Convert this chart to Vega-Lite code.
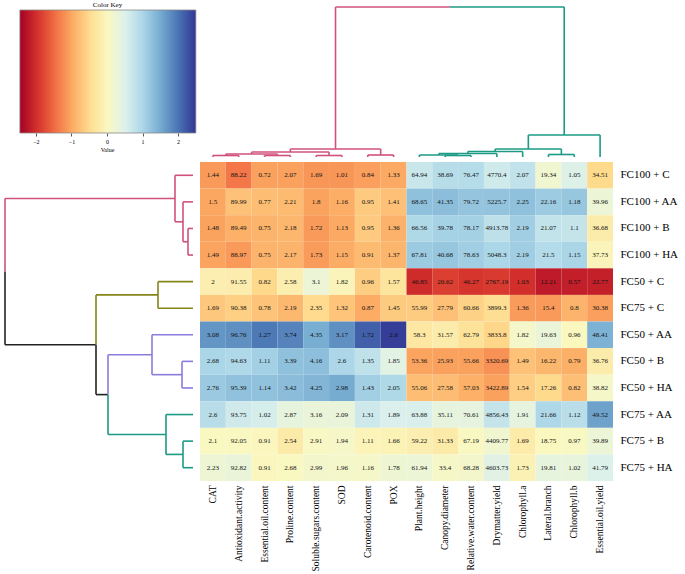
{
  "$schema": "https://vega.github.io/schema/vega-lite/v6.json",
  "padding": 0,
  "columns": 2,
  "align": "each",
  "bounds": "flush",
  "spacing": {"row": 5, "column": 7},
  "config": {
    "view": {"stroke": null},
    "font": "Liberation Serif",
    "axis": {"labelFont": "Liberation Serif", "titleFont": "Liberation Serif", "labelColor": "#000", "titleColor": "#000", "grid": false},
    "title": {"font": "Liberation Serif", "fontWeight": "normal", "color": "#000"}
  },
  "datasets": {
    "key": [{"lo": -2.45, "hi": 2.5}],
    "cells": [
      {"v":"CAT","t":"FC100 + C","val":1.44,"z":-1.11},{"v":"CAT","t":"FC100 + AA","val":1.5,"z":-1.01},{"v":"CAT","t":"FC100 + B","val":1.48,"z":-1.04},{"v":"CAT","t":"FC100 + HA","val":1.49,"z":-1.03},{"v":"CAT","t":"FC50 + C","val":2,"z":-0.15},{"v":"CAT","t":"FC75 + C","val":1.69,"z":-0.68},{"v":"CAT","t":"FC50 + AA","val":3.08,"z":1.70},{"v":"CAT","t":"FC50 + B","val":2.68,"z":1.02},{"v":"CAT","t":"FC50 + HA","val":2.76,"z":1.16},{"v":"CAT","t":"FC75 + AA","val":2.6,"z":0.88},{"v":"CAT","t":"FC75 + B","val":2.1,"z":0.02},{"v":"CAT","t":"FC75 + HA","val":2.23,"z":0.24},
      {"v":"Antioxidant.activity","t":"FC100 + C","val":88.22,"z":-1.39},{"v":"Antioxidant.activity","t":"FC100 + AA","val":89.99,"z":-0.74},{"v":"Antioxidant.activity","t":"FC100 + B","val":89.49,"z":-0.92},{"v":"Antioxidant.activity","t":"FC100 + HA","val":88.97,"z":-1.11},{"v":"Antioxidant.activity","t":"FC50 + C","val":91.55,"z":-0.17},{"v":"Antioxidant.activity","t":"FC75 + C","val":90.38,"z":-0.60},{"v":"Antioxidant.activity","t":"FC50 + AA","val":96.76,"z":1.75},{"v":"Antioxidant.activity","t":"FC50 + B","val":94.63,"z":0.97},{"v":"Antioxidant.activity","t":"FC50 + HA","val":95.39,"z":1.25},{"v":"Antioxidant.activity","t":"FC75 + AA","val":93.75,"z":0.64},{"v":"Antioxidant.activity","t":"FC75 + B","val":92.05,"z":0.02},{"v":"Antioxidant.activity","t":"FC75 + HA","val":92.82,"z":0.30},
      {"v":"Essential.oil.content","t":"FC100 + C","val":0.72,"z":-1.05},{"v":"Essential.oil.content","t":"FC100 + AA","val":0.77,"z":-0.78},{"v":"Essential.oil.content","t":"FC100 + B","val":0.75,"z":-0.89},{"v":"Essential.oil.content","t":"FC100 + HA","val":0.75,"z":-0.89},{"v":"Essential.oil.content","t":"FC50 + C","val":0.82,"z":-0.51},{"v":"Essential.oil.content","t":"FC75 + C","val":0.78,"z":-0.73},{"v":"Essential.oil.content","t":"FC50 + AA","val":1.27,"z":1.96},{"v":"Essential.oil.content","t":"FC50 + B","val":1.11,"z":1.08},{"v":"Essential.oil.content","t":"FC50 + HA","val":1.14,"z":1.25},{"v":"Essential.oil.content","t":"FC75 + AA","val":1.02,"z":0.59},{"v":"Essential.oil.content","t":"FC75 + B","val":0.91,"z":-0.01},{"v":"Essential.oil.content","t":"FC75 + HA","val":0.91,"z":-0.01},
      {"v":"Proline.content","t":"FC100 + C","val":2.07,"z":-1.05},{"v":"Proline.content","t":"FC100 + AA","val":2.21,"z":-0.81},{"v":"Proline.content","t":"FC100 + B","val":2.18,"z":-0.86},{"v":"Proline.content","t":"FC100 + HA","val":2.17,"z":-0.88},{"v":"Proline.content","t":"FC50 + C","val":2.58,"z":-0.16},{"v":"Proline.content","t":"FC75 + C","val":2.19,"z":-0.84},{"v":"Proline.content","t":"FC50 + AA","val":3.74,"z":1.87},{"v":"Proline.content","t":"FC50 + B","val":3.39,"z":1.26},{"v":"Proline.content","t":"FC50 + HA","val":3.42,"z":1.31},{"v":"Proline.content","t":"FC75 + AA","val":2.87,"z":0.35},{"v":"Proline.content","t":"FC75 + B","val":2.54,"z":-0.23},{"v":"Proline.content","t":"FC75 + HA","val":2.68,"z":0.02},
      {"v":"Soluble.sugars.content","t":"FC100 + C","val":1.69,"z":-1.14},{"v":"Soluble.sugars.content","t":"FC100 + AA","val":1.8,"z":-1.04},{"v":"Soluble.sugars.content","t":"FC100 + B","val":1.72,"z":-1.11},{"v":"Soluble.sugars.content","t":"FC100 + HA","val":1.73,"z":-1.10},{"v":"Soluble.sugars.content","t":"FC50 + C","val":3.1,"z":0.25},{"v":"Soluble.sugars.content","t":"FC75 + C","val":2.35,"z":-0.49},{"v":"Soluble.sugars.content","t":"FC50 + AA","val":4.35,"z":1.48},{"v":"Soluble.sugars.content","t":"FC50 + B","val":4.16,"z":1.29},{"v":"Soluble.sugars.content","t":"FC50 + HA","val":4.25,"z":1.38},{"v":"Soluble.sugars.content","t":"FC75 + AA","val":3.16,"z":0.30},{"v":"Soluble.sugars.content","t":"FC75 + B","val":2.91,"z":0.06},{"v":"Soluble.sugars.content","t":"FC75 + HA","val":2.99,"z":0.14},
      {"v":"SOD","t":"FC100 + C","val":1.01,"z":-1.14},{"v":"SOD","t":"FC100 + AA","val":1.16,"z":-0.94},{"v":"SOD","t":"FC100 + B","val":1.13,"z":-0.98},{"v":"SOD","t":"FC100 + HA","val":1.15,"z":-0.95},{"v":"SOD","t":"FC50 + C","val":1.82,"z":-0.05},{"v":"SOD","t":"FC75 + C","val":1.32,"z":-0.72},{"v":"SOD","t":"FC50 + AA","val":3.17,"z":1.75},{"v":"SOD","t":"FC50 + B","val":2.6,"z":0.99},{"v":"SOD","t":"FC50 + HA","val":2.98,"z":1.50},{"v":"SOD","t":"FC75 + AA","val":2.09,"z":0.31},{"v":"SOD","t":"FC75 + B","val":1.94,"z":0.11},{"v":"SOD","t":"FC75 + HA","val":1.96,"z":0.13},
      {"v":"Carotenoid.content","t":"FC100 + C","val":0.84,"z":-1.07},{"v":"Carotenoid.content","t":"FC100 + AA","val":0.95,"z":-0.66},{"v":"Carotenoid.content","t":"FC100 + B","val":0.95,"z":-0.66},{"v":"Carotenoid.content","t":"FC100 + HA","val":0.91,"z":-0.81},{"v":"Carotenoid.content","t":"FC50 + C","val":0.96,"z":-0.63},{"v":"Carotenoid.content","t":"FC75 + C","val":0.87,"z":-0.96},{"v":"Carotenoid.content","t":"FC50 + AA","val":1.72,"z":2.17},{"v":"Carotenoid.content","t":"FC50 + B","val":1.35,"z":0.81},{"v":"Carotenoid.content","t":"FC50 + HA","val":1.43,"z":1.10},{"v":"Carotenoid.content","t":"FC75 + AA","val":1.31,"z":0.66},{"v":"Carotenoid.content","t":"FC75 + B","val":1.11,"z":-0.07},{"v":"Carotenoid.content","t":"FC75 + HA","val":1.16,"z":0.11},
      {"v":"POX","t":"FC100 + C","val":1.33,"z":-0.98},{"v":"POX","t":"FC100 + AA","val":1.41,"z":-0.76},{"v":"POX","t":"FC100 + B","val":1.36,"z":-0.90},{"v":"POX","t":"FC100 + HA","val":1.37,"z":-0.87},{"v":"POX","t":"FC50 + C","val":1.57,"z":-0.33},{"v":"POX","t":"FC75 + C","val":1.45,"z":-0.65},{"v":"POX","t":"FC50 + AA","val":2.6,"z":2.44},{"v":"POX","t":"FC50 + B","val":1.85,"z":0.42},{"v":"POX","t":"FC50 + HA","val":2.05,"z":0.96},{"v":"POX","t":"FC75 + AA","val":1.89,"z":0.53},{"v":"POX","t":"FC75 + B","val":1.66,"z":-0.09},{"v":"POX","t":"FC75 + HA","val":1.78,"z":0.23},
      {"v":"Plant.height","t":"FC100 + C","val":64.94,"z":0.71},{"v":"Plant.height","t":"FC100 + AA","val":68.65,"z":1.27},{"v":"Plant.height","t":"FC100 + B","val":66.56,"z":0.96},{"v":"Plant.height","t":"FC100 + HA","val":67.81,"z":1.15},{"v":"Plant.height","t":"FC50 + C","val":46.85,"z":-2.02},{"v":"Plant.height","t":"FC75 + C","val":55.99,"z":-0.64},{"v":"Plant.height","t":"FC50 + AA","val":58.3,"z":-0.29},{"v":"Plant.height","t":"FC50 + B","val":53.36,"z":-1.03},{"v":"Plant.height","t":"FC50 + HA","val":55.06,"z":-0.78},{"v":"Plant.height","t":"FC75 + AA","val":63.88,"z":0.55},{"v":"Plant.height","t":"FC75 + B","val":59.22,"z":-0.15},{"v":"Plant.height","t":"FC75 + HA","val":61.94,"z":0.26},
      {"v":"Canopy.diameter","t":"FC100 + C","val":38.69,"z":0.89},{"v":"Canopy.diameter","t":"FC100 + AA","val":41.35,"z":1.30},{"v":"Canopy.diameter","t":"FC100 + B","val":39.78,"z":1.06},{"v":"Canopy.diameter","t":"FC100 + HA","val":40.68,"z":1.20},{"v":"Canopy.diameter","t":"FC50 + C","val":20.62,"z":-1.85},{"v":"Canopy.diameter","t":"FC75 + C","val":27.79,"z":-0.76},{"v":"Canopy.diameter","t":"FC50 + AA","val":31.57,"z":-0.19},{"v":"Canopy.diameter","t":"FC50 + B","val":25.93,"z":-1.05},{"v":"Canopy.diameter","t":"FC50 + HA","val":27.58,"z":-0.80},{"v":"Canopy.diameter","t":"FC75 + AA","val":35.11,"z":0.35},{"v":"Canopy.diameter","t":"FC75 + B","val":31.33,"z":-0.23},{"v":"Canopy.diameter","t":"FC75 + HA","val":33.4,"z":0.09},
      {"v":"Relative.water.content","t":"FC100 + C","val":76.47,"z":0.91},{"v":"Relative.water.content","t":"FC100 + AA","val":79.72,"z":1.22},{"v":"Relative.water.content","t":"FC100 + B","val":78.17,"z":1.07},{"v":"Relative.water.content","t":"FC100 + HA","val":78.63,"z":1.11},{"v":"Relative.water.content","t":"FC50 + C","val":46.27,"z":-1.93},{"v":"Relative.water.content","t":"FC75 + C","val":60.66,"z":-0.58},{"v":"Relative.water.content","t":"FC50 + AA","val":62.79,"z":-0.38},{"v":"Relative.water.content","t":"FC50 + B","val":55.66,"z":-1.05},{"v":"Relative.water.content","t":"FC50 + HA","val":57.03,"z":-0.92},{"v":"Relative.water.content","t":"FC75 + AA","val":70.61,"z":0.36},{"v":"Relative.water.content","t":"FC75 + B","val":67.19,"z":0.04},{"v":"Relative.water.content","t":"FC75 + HA","val":68.28,"z":0.14},
      {"v":"Drymatter.yield","t":"FC100 + C","val":4770.4,"z":0.65},{"v":"Drymatter.yield","t":"FC100 + AA","val":5225.7,"z":1.23},{"v":"Drymatter.yield","t":"FC100 + B","val":4913.78,"z":0.83},{"v":"Drymatter.yield","t":"FC100 + HA","val":5048.3,"z":1.00},{"v":"Drymatter.yield","t":"FC50 + C","val":2767.19,"z":-1.89},{"v":"Drymatter.yield","t":"FC75 + C","val":3899.3,"z":-0.45},{"v":"Drymatter.yield","t":"FC50 + AA","val":3833.8,"z":-0.53},{"v":"Drymatter.yield","t":"FC50 + B","val":3320.69,"z":-1.18},{"v":"Drymatter.yield","t":"FC50 + HA","val":3422.89,"z":-1.05},{"v":"Drymatter.yield","t":"FC75 + AA","val":4856.43,"z":0.76},{"v":"Drymatter.yield","t":"FC75 + B","val":4409.77,"z":0.19},{"v":"Drymatter.yield","t":"FC75 + HA","val":4603.73,"z":0.44},
      {"v":"Chlorophyll.a","t":"FC100 + C","val":2.07,"z":0.79},{"v":"Chlorophyll.a","t":"FC100 + AA","val":2.25,"z":1.27},{"v":"Chlorophyll.a","t":"FC100 + B","val":2.19,"z":1.11},{"v":"Chlorophyll.a","t":"FC100 + HA","val":2.19,"z":1.11},{"v":"Chlorophyll.a","t":"FC50 + C","val":1.03,"z":-1.98},{"v":"Chlorophyll.a","t":"FC75 + C","val":1.36,"z":-1.10},{"v":"Chlorophyll.a","t":"FC50 + AA","val":1.82,"z":0.13},{"v":"Chlorophyll.a","t":"FC50 + B","val":1.49,"z":-0.75},{"v":"Chlorophyll.a","t":"FC50 + HA","val":1.54,"z":-0.62},{"v":"Chlorophyll.a","t":"FC75 + AA","val":1.91,"z":0.37},{"v":"Chlorophyll.a","t":"FC75 + B","val":1.69,"z":-0.22},{"v":"Chlorophyll.a","t":"FC75 + HA","val":1.73,"z":-0.11},
      {"v":"Lateral.branch","t":"FC100 + C","val":19.34,"z":0.20},{"v":"Lateral.branch","t":"FC100 + AA","val":22.16,"z":1.14},{"v":"Lateral.branch","t":"FC100 + B","val":21.07,"z":0.78},{"v":"Lateral.branch","t":"FC100 + HA","val":21.5,"z":0.92},{"v":"Lateral.branch","t":"FC50 + C","val":12.21,"z":-2.19},{"v":"Lateral.branch","t":"FC75 + C","val":15.4,"z":-1.12},{"v":"Lateral.branch","t":"FC50 + AA","val":19.63,"z":0.29},{"v":"Lateral.branch","t":"FC50 + B","val":16.22,"z":-0.85},{"v":"Lateral.branch","t":"FC50 + HA","val":17.26,"z":-0.50},{"v":"Lateral.branch","t":"FC75 + AA","val":21.66,"z":0.98},{"v":"Lateral.branch","t":"FC75 + B","val":18.75,"z":0.00},{"v":"Lateral.branch","t":"FC75 + HA","val":19.81,"z":0.35},
      {"v":"Chlorophyll.b","t":"FC100 + C","val":1.05,"z":0.49},{"v":"Chlorophyll.b","t":"FC100 + AA","val":1.18,"z":1.20},{"v":"Chlorophyll.b","t":"FC100 + B","val":1.1,"z":0.76},{"v":"Chlorophyll.b","t":"FC100 + HA","val":1.15,"z":1.03},{"v":"Chlorophyll.b","t":"FC50 + C","val":0.57,"z":-2.14},{"v":"Chlorophyll.b","t":"FC75 + C","val":0.8,"z":-0.88},{"v":"Chlorophyll.b","t":"FC50 + AA","val":0.96,"z":0.00},{"v":"Chlorophyll.b","t":"FC50 + B","val":0.79,"z":-0.93},{"v":"Chlorophyll.b","t":"FC50 + HA","val":0.82,"z":-0.77},{"v":"Chlorophyll.b","t":"FC75 + AA","val":1.12,"z":0.87},{"v":"Chlorophyll.b","t":"FC75 + B","val":0.97,"z":0.05},{"v":"Chlorophyll.b","t":"FC75 + HA","val":1.02,"z":0.32},
      {"v":"Essential.oil.yield","t":"FC100 + C","val":34.51,"z":-0.50},{"v":"Essential.oil.yield","t":"FC100 + AA","val":39.96,"z":0.26},{"v":"Essential.oil.yield","t":"FC100 + B","val":36.68,"z":-0.20},{"v":"Essential.oil.yield","t":"FC100 + HA","val":37.73,"z":-0.05},{"v":"Essential.oil.yield","t":"FC50 + C","val":22.77,"z":-2.13},{"v":"Essential.oil.yield","t":"FC75 + C","val":30.38,"z":-1.07},{"v":"Essential.oil.yield","t":"FC50 + AA","val":48.41,"z":1.43},{"v":"Essential.oil.yield","t":"FC50 + B","val":36.76,"z":-0.19},{"v":"Essential.oil.yield","t":"FC50 + HA","val":38.82,"z":0.10},{"v":"Essential.oil.yield","t":"FC75 + AA","val":49.52,"z":1.59},{"v":"Essential.oil.yield","t":"FC75 + B","val":39.89,"z":0.25},{"v":"Essential.oil.yield","t":"FC75 + HA","val":41.79,"z":0.51}
    ],
    "topd": [
      {"p1":0.5,"p2":1.5,"h1":1.5,"h2":1.5,"g":"A"},{"p1":0.5,"p2":0.5,"h1":0,"h2":1.5,"g":"A"},{"p1":1.5,"p2":1.5,"h1":0,"h2":1.5,"g":"A"},
      {"p1":2.5,"p2":3.5,"h1":1.5,"h2":1.5,"g":"A"},{"p1":2.5,"p2":2.5,"h1":0,"h2":1.5,"g":"A"},{"p1":3.5,"p2":3.5,"h1":0,"h2":1.5,"g":"A"},
      {"p1":4.5,"p2":5.5,"h1":1.5,"h2":1.5,"g":"A"},{"p1":4.5,"p2":4.5,"h1":0,"h2":1.5,"g":"A"},{"p1":5.5,"p2":5.5,"h1":0,"h2":1.5,"g":"A"},
      {"p1":6.5,"p2":7.5,"h1":2,"h2":2,"g":"A"},{"p1":6.5,"p2":6.5,"h1":0,"h2":2,"g":"A"},{"p1":7.5,"p2":7.5,"h1":0,"h2":2,"g":"A"},
      {"p1":1,"p2":3,"h1":3,"h2":3,"g":"A"},{"p1":1,"p2":1,"h1":1.5,"h2":3,"g":"A"},{"p1":3,"p2":3,"h1":1.5,"h2":3,"g":"A"},
      {"p1":2,"p2":5,"h1":5,"h2":5,"g":"A"},{"p1":2,"p2":2,"h1":3,"h2":5,"g":"A"},{"p1":5,"p2":5,"h1":1.5,"h2":5,"g":"A"},
      {"p1":3.5,"p2":7,"h1":8,"h2":8,"g":"A"},{"p1":3.5,"p2":3.5,"h1":5,"h2":8,"g":"A"},{"p1":7,"p2":7,"h1":2,"h2":8,"g":"A"},
      {"p1":5.25,"p2":9.68,"h1":150,"h2":150,"g":"A"},{"p1":5.25,"p2":5.25,"h1":8,"h2":150,"g":"A"},
      {"p1":9.5,"p2":10.5,"h1":1.5,"h2":1.5,"g":"B"},{"p1":9.5,"p2":9.5,"h1":0,"h2":1.5,"g":"B"},{"p1":10.5,"p2":10.5,"h1":0,"h2":1.5,"g":"B"},
      {"p1":8.5,"p2":10,"h1":2,"h2":2,"g":"B"},{"p1":8.5,"p2":8.5,"h1":0,"h2":2,"g":"B"},{"p1":10,"p2":10,"h1":1.5,"h2":2,"g":"B"},
      {"p1":9.25,"p2":11.5,"h1":3.5,"h2":3.5,"g":"B"},{"p1":9.25,"p2":9.25,"h1":2,"h2":3.5,"g":"B"},{"p1":11.5,"p2":11.5,"h1":0,"h2":3.5,"g":"B"},
      {"p1":10.375,"p2":12.5,"h1":5.5,"h2":5.5,"g":"B"},{"p1":10.375,"p2":10.375,"h1":3.5,"h2":5.5,"g":"B"},{"p1":12.5,"p2":12.5,"h1":0,"h2":5.5,"g":"B"},
      {"p1":13.5,"p2":14.5,"h1":2.5,"h2":2.5,"g":"B"},{"p1":13.5,"p2":13.5,"h1":0,"h2":2.5,"g":"B"},{"p1":14.5,"p2":14.5,"h1":0,"h2":2.5,"g":"B"},
      {"p1":11.4375,"p2":14,"h1":8,"h2":8,"g":"B"},{"p1":11.4375,"p2":11.4375,"h1":5.5,"h2":8,"g":"B"},{"p1":14,"p2":14,"h1":2.5,"h2":8,"g":"B"},
      {"p1":12.72,"p2":15.5,"h1":22,"h2":22,"g":"B"},{"p1":12.72,"p2":12.72,"h1":8,"h2":22,"g":"B"},{"p1":15.5,"p2":15.5,"h1":0,"h2":22,"g":"B"},
      {"p1":9.68,"p2":14.11,"h1":150,"h2":150,"g":"B"},{"p1":14.11,"p2":14.11,"h1":22,"h2":150,"g":"B"}
    ],
    "leftd": [
      {"p1":2.5,"p2":3.5,"h1":5,"h2":5,"g":"A"},{"p1":2.5,"p2":2.5,"h1":0,"h2":5,"g":"A"},{"p1":3.5,"p2":3.5,"h1":0,"h2":5,"g":"A"},
      {"p1":1.5,"p2":3,"h1":10,"h2":10,"g":"A"},{"p1":1.5,"p2":1.5,"h1":0,"h2":10,"g":"A"},{"p1":3,"p2":3,"h1":5,"h2":10,"g":"A"},
      {"p1":0.5,"p2":2.25,"h1":18,"h2":18,"g":"A"},{"p1":0.5,"p2":0.5,"h1":0,"h2":18,"g":"A"},{"p1":2.25,"p2":2.25,"h1":10,"h2":18,"g":"A"},
      {"p1":1.375,"p2":4.125,"h1":188,"h2":188,"g":"A"},{"p1":1.375,"p2":1.375,"h1":18,"h2":188,"g":"A"},
      {"p1":4.125,"p2":6.875,"h1":188,"h2":188,"g":"K"},{"p1":6.875,"p2":6.875,"h1":97,"h2":188,"g":"K"},
      {"p1":6.875,"p2":8.75,"h1":97,"h2":97,"g":"K"},{"p1":8.75,"p2":8.75,"h1":85,"h2":97,"g":"K"},
      {"p1":4.5,"p2":5.5,"h1":35,"h2":35,"g":"O"},{"p1":4.5,"p2":4.5,"h1":0,"h2":35,"g":"O"},{"p1":5.5,"p2":5.5,"h1":0,"h2":35,"g":"O"},
      {"p1":5,"p2":6.875,"h1":97,"h2":97,"g":"O"},{"p1":5,"p2":5,"h1":35,"h2":97,"g":"O"},
      {"p1":7.5,"p2":8.5,"h1":11,"h2":11,"g":"P"},{"p1":7.5,"p2":7.5,"h1":0,"h2":11,"g":"P"},{"p1":8.5,"p2":8.5,"h1":0,"h2":11,"g":"P"},
      {"p1":6.5,"p2":8,"h1":41,"h2":41,"g":"P"},{"p1":6.5,"p2":6.5,"h1":0,"h2":41,"g":"P"},{"p1":8,"p2":8,"h1":11,"h2":41,"g":"P"},
      {"p1":7.25,"p2":8.75,"h1":85,"h2":85,"g":"P"},{"p1":7.25,"p2":7.25,"h1":41,"h2":85,"g":"P"},
      {"p1":10.5,"p2":11.5,"h1":10,"h2":10,"g":"B"},{"p1":10.5,"p2":10.5,"h1":0,"h2":10,"g":"B"},{"p1":11.5,"p2":11.5,"h1":0,"h2":10,"g":"B"},
      {"p1":9.5,"p2":11,"h1":27,"h2":27,"g":"B"},{"p1":9.5,"p2":9.5,"h1":0,"h2":27,"g":"B"},{"p1":11,"p2":11,"h1":10,"h2":27,"g":"B"},
      {"p1":8.75,"p2":10.25,"h1":85,"h2":85,"g":"B"},{"p1":10.25,"p2":10.25,"h1":27,"h2":85,"g":"B"}
    ]
  },
  "concat": [
    {
      "width": 193,
      "height": 123,
      "title": {"text": "Color Key", "fontSize": 7, "offset": 2, "dx": 11},
      "data": {"name": "key"},
      "mark": {
        "type": "rect",
        "stroke": "#888",
        "strokeWidth": 0.8,
        "fill": {
          "gradient": "linear",
          "x1": 0, "x2": 1, "y1": 0, "y2": 0,
          "stops": [
            {"offset": 0, "color": "#a50026"},
            {"offset": 0.1, "color": "#d4322c"},
            {"offset": 0.2, "color": "#f16e43"},
            {"offset": 0.3, "color": "#fcac64"},
            {"offset": 0.4, "color": "#fedd90"},
            {"offset": 0.5, "color": "#faf8c1"},
            {"offset": 0.6, "color": "#dcf1ec"},
            {"offset": 0.7, "color": "#abd6e8"},
            {"offset": 0.8, "color": "#75abd0"},
            {"offset": 0.9, "color": "#4a74b4"},
            {"offset": 1, "color": "#313695"}
          ]
        }
      },
      "encoding": {
        "x": {
          "field": "lo", "type": "quantitative",
          "scale": {"domain": [-3.01, 2.42], "nice": false, "zero": false},
          "axis": {"values": [-2, -1, 0, 1, 2], "domain": false, "tickSize": 3, "tickColor": "#555", "labelFontSize": 6, "labelPadding": 2, "title": "Value", "titleFontSize": 6, "titleFontWeight": "normal", "titlePadding": 2, "titleX": 107}
        },
        "x2": {"field": "hi"}
      }
    },
    {
      "width": 413,
      "height": 147,
      "data": {"name": "topd"},
      "mark": {"type": "rule", "strokeWidth": 1.6},
      "encoding": {
        "x": {"field": "p1", "type": "quantitative", "scale": {"domain": [0, 16], "nice": false, "zero": false}, "axis": null},
        "x2": {"field": "p2"},
        "y": {"field": "h1", "type": "quantitative", "scale": {"domain": [0, 147], "nice": false}, "axis": null},
        "y2": {"field": "h2"},
        "color": {"field": "g", "type": "nominal", "scale": {"domain": ["A", "B", "O", "P", "K"], "range": ["#D0527C", "#1B9A84", "#85851A", "#8A7CDC", "#222222"]}, "legend": null}
      }
    },
    {
      "width": 193,
      "height": 319,
      "data": {"name": "leftd"},
      "mark": {"type": "rule", "strokeWidth": 1.6},
      "encoding": {
        "x": {"field": "h1", "type": "quantitative", "scale": {"domain": [0, 193], "nice": false, "reverse": true}, "axis": null},
        "x2": {"field": "h2"},
        "y": {"field": "p1", "type": "quantitative", "scale": {"domain": [0, 12], "nice": false, "zero": false, "reverse": true}, "axis": null},
        "y2": {"field": "p2"},
        "color": {"field": "g", "type": "nominal", "scale": {"domain": ["A", "B", "O", "P", "K"], "range": ["#D0527C", "#1B9A84", "#85851A", "#8A7CDC", "#222222"]}, "legend": null}
      }
    },
    {
      "width": 413,
      "height": 319,
      "data": {"name": "cells"},
      "encoding": {
        "x": {
          "field": "v", "type": "nominal",
          "sort": ["CAT","Antioxidant.activity","Essential.oil.content","Proline.content","Soluble.sugars.content","SOD","Carotenoid.content","POX","Plant.height","Canopy.diameter","Relative.water.content","Drymatter.yield","Chlorophyll.a","Lateral.branch","Chlorophyll.b","Essential.oil.yield"],
          "axis": {"orient": "bottom", "labelAngle": -90, "domain": false, "ticks": false, "title": null, "labelFontSize": 9.5, "labelPadding": 4, "labelLimit": 200}
        },
        "y": {
          "field": "t", "type": "nominal",
          "sort": ["FC100 + C","FC100 + AA","FC100 + B","FC100 + HA","FC50 + C","FC75 + C","FC50 + AA","FC50 + B","FC50 + HA","FC75 + AA","FC75 + B","FC75 + HA"],
          "axis": {"orient": "right", "domain": false, "ticks": false, "title": null, "labelFontSize": 11, "labelPadding": 7}
        }
      },
      "layer": [
        {
          "mark": {"type": "rect"},
          "encoding": {
            "color": {"field": "z", "type": "quantitative", "scale": {"scheme": "redyellowblue", "domain": [-2.45, 2.5]}, "legend": null}
          }
        },
        {
          "mark": {"type": "text", "fontSize": 7, "font": "Liberation Serif", "color": "#111"},
          "encoding": {
            "text": {"field": "val", "type": "nominal"}
          }
        }
      ]
    }
  ]
}
